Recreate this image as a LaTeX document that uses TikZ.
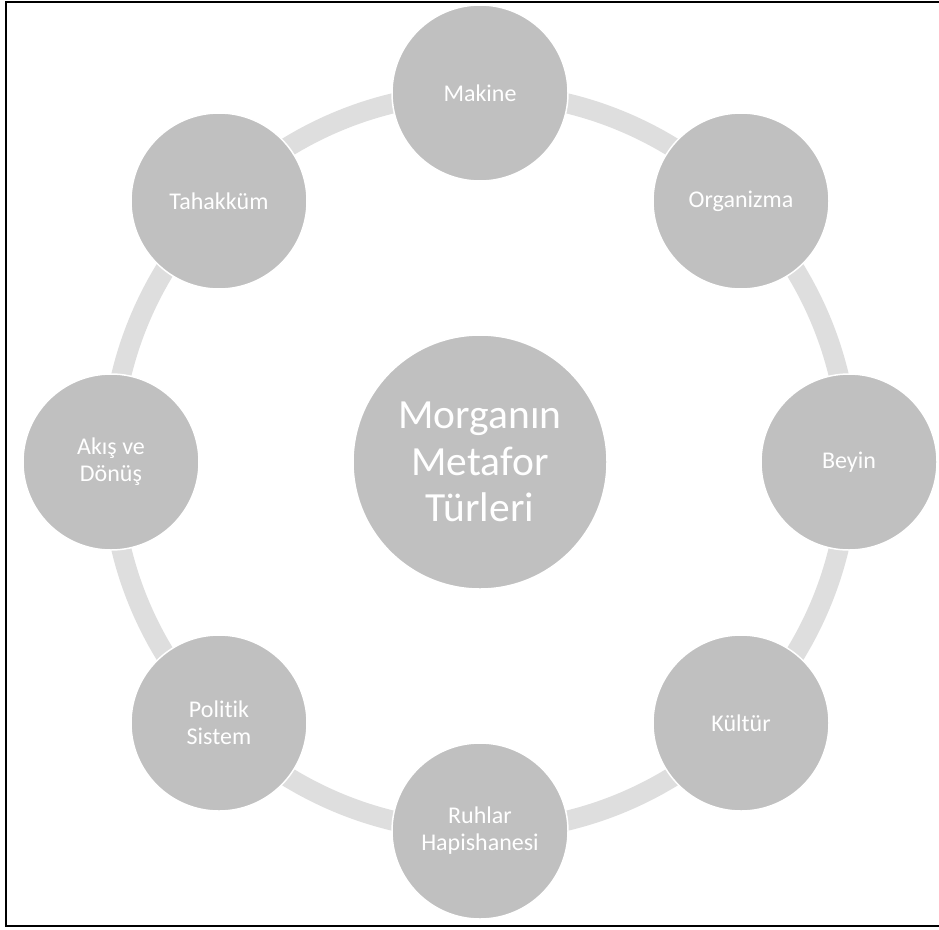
\documentclass[tikz,border=0pt]{standalone}
\usepackage{fontspec}
\setmainfont{Carlito}[Ligatures=NoCommon]
\definecolor{nodegray}{HTML}{C0C0C0}
\definecolor{ringgray}{HTML}{DEDEDE}
\tikzset{
  petal/.style={circle, minimum size=176pt, inner sep=0pt, fill=nodegray, draw=white, line width=1.5pt,
    text=white, align=center, font=\fontsize{24}{27}\selectfont},
  hub/.style={circle, minimum size=254pt, inner sep=0pt, fill=nodegray, draw=white, line width=1.5pt,
    text=white, align=center, font=\fontsize{41.5}{46.5}\selectfont},
  ring/.style={draw=ringgray, line width=20pt},
  frame/.style={draw=black, line width=2.5pt}
}
\begin{document}
\begin{tikzpicture}[x=1pt,y=-1pt]
\useasboundingbox (0,0) rectangle (939,929);
\draw[frame] (939,2) -- (6,2) -- (6,926) -- (939,926);
\coordinate (ctr) at (480,462);
\draw[ring] (ctr) circle (369pt);
\node[hub] (hub) at (ctr) {Morganın\\Metafor\\Türleri};
\node[petal] (makine) at (480,93) {Makine};
\node[petal] (organizma) at (741,201) {Organizma};
\node[petal] (beyin) at (849,462) {Beyin};
\node[petal] (kultur) at (741,723) {Kültür};
\node[petal] (ruhlar) at (480,831) {Ruhlar\\Hapishanesi};
\node[petal] (politik) at (219,723) {Politik\\Sistem};
\node[petal] (akis) at (111,462) {Akış ve\\Dönüş};
\node[petal] (tahakkum) at (219,201) {Tahakküm};
\end{tikzpicture}
\end{document}
